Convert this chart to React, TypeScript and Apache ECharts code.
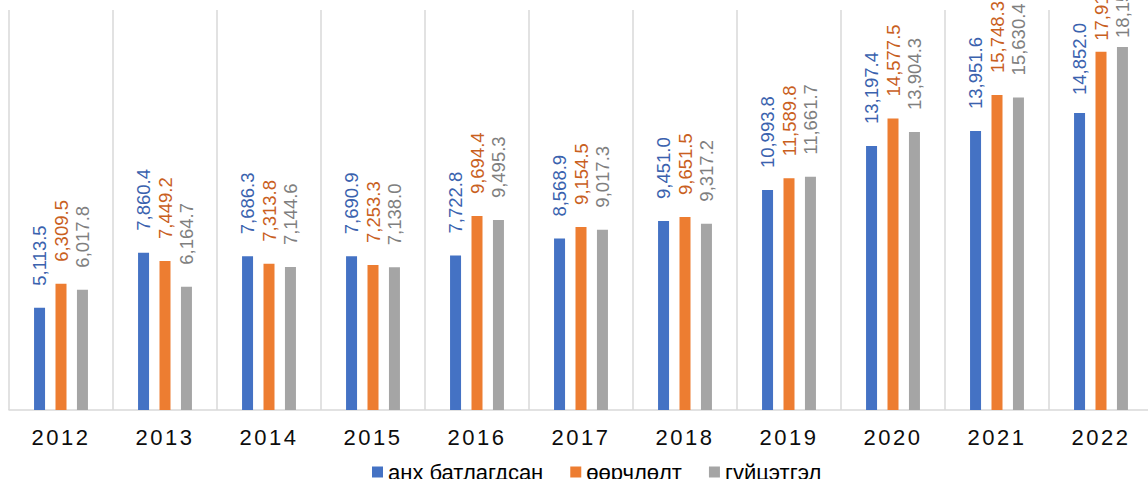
import React, { useEffect, useRef } from "react";
import * as echarts from "echarts";

const years = ["2012", "2013", "2014", "2015", "2016", "2017", "2018", "2019", "2020", "2021", "2022"];
const seriesNames = ["анх батлагдсан", "өөрчлөлт", "гүйцэтгэл"];
const approved = [5113.5, 7860.4, 7686.3, 7690.9, 7722.8, 8568.9, 9451.0, 10993.8, 13197.4, 13951.6, 14852.0];
const revised = [6309.5, 7449.2, 7313.8, 7253.3, 9694.4, 9154.5, 9651.5, 11589.8, 14577.5, 15748.3, 17914.6];
const actual = [6017.8, 6164.7, 7144.6, 7138.0, 9495.3, 9017.3, 9317.2, 11661.7, 13904.3, 15630.4, 18153.4];

const barColors = ["#4472C4", "#ED7D31", "#A5A5A5"];
const labelColors = ["#3A62AE", "#C9601E", "#7F7F7F"];
const FONT = "'Liberation Sans', Arial, sans-serif";
// last-year labels sit closer to their bars (they run into the top edge)
const lastLabelDistance = [18, 11, 9];

const fmt = (v: number) =>
  v.toLocaleString("en-US", { minimumFractionDigits: 1, maximumFractionDigits: 1 });

export default function App() {
  const ref = useRef<HTMLDivElement>(null);
  useEffect(() => {
    if (!ref.current) return;
    const chart = echarts.init(ref.current, undefined, { renderer: "svg" });
    const data = [approved, revised, actual];
    chart.setOption({
      animation: false,
      backgroundColor: "#ffffff",
      textStyle: { fontFamily: FONT },
      grid: { left: 9, top: 10, width: 1144, height: 400 },
      legend: {
        left: 367,
        top: 456,
        icon: "rect",
        itemWidth: 11,
        itemHeight: 11,
        itemGap: 27,
        textStyle: { fontSize: 22, color: "#000000", fontFamily: FONT },
        data: seriesNames,
      },
      xAxis: {
        type: "category",
        data: years,
        axisLine: { lineStyle: { color: "#D9D9D9", width: 1.5 } },
        axisTick: { show: false },
        splitLine: { show: true, lineStyle: { color: "#D9D9D9", width: 1.5 } },
        axisLabel: { fontSize: 22, color: "#0D0D0D", margin: 16, fontFamily: FONT },
      },
      yAxis: {
        type: "value",
        min: 0,
        max: 20000,
        show: false,
        splitLine: { show: false },
      },
      series: seriesNames.map((name, i) => ({
        name,
        type: "bar",
        data: data[i].map((v, j) =>
          j === data[i].length - 1
            ? { value: v, label: { distance: lastLabelDistance[i] } }
            : v
        ),
        barWidth: 11,
        barGap: "95%",
        itemStyle: { color: barColors[i] },
        label: {
          show: true,
          position: "top",
          rotate: 90,
          align: "left",
          verticalAlign: "middle",
          distance: 22,
          fontSize: 18.5,
          fontFamily: FONT,
          color: labelColors[i],
          formatter: (p: any) => fmt(p.value),
        },
      })),
    });
    // Excel-style character spacing for the year labels
    const texts = ref.current.querySelectorAll("text");
    texts.forEach((t) => {
      if (/^20\d\d$/.test((t.textContent || "").trim())) {
        (t as SVGTextElement).style.letterSpacing = "2.5px";
      }
    });
    return () => chart.dispose();
  }, []);
  return (
    <div
      style={{
        position: "absolute",
        left: 0,
        top: 0,
        width: 1148,
        height: 479,
        overflow: "hidden",
        background: "#fff",
      }}
    >
      <div ref={ref} style={{ width: 1160, height: 479 }} />
    </div>
  );
}
